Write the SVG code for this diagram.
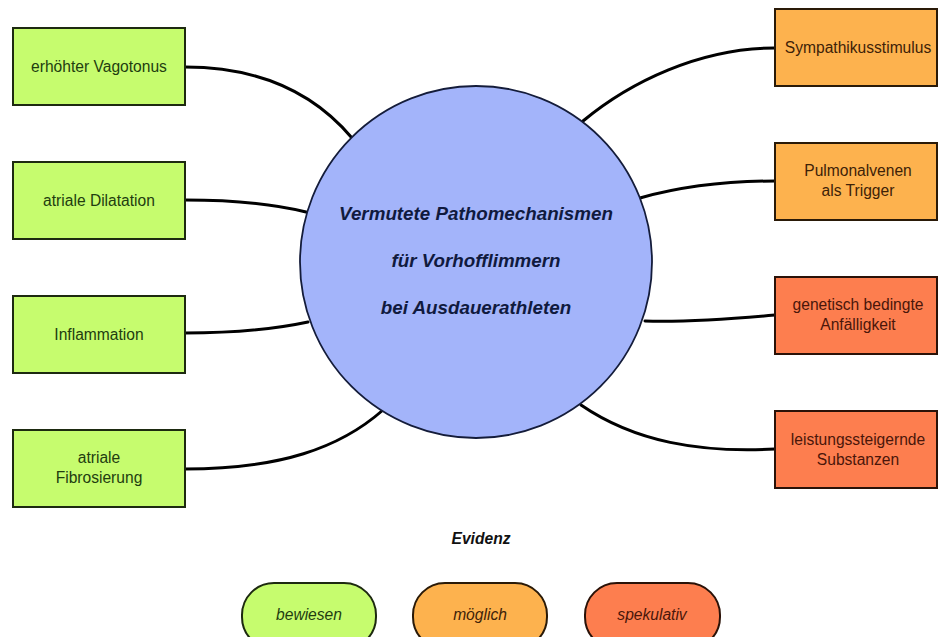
<svg xmlns="http://www.w3.org/2000/svg" width="940" height="637" viewBox="0 0 940 637">
<style>
text{font-family:"Liberation Sans",Arial,sans-serif;text-anchor:middle;font-size:15.6px}
.g rect{fill:#c6fc6e;stroke:#1d2a10;stroke-width:2}
.g text{fill:#223d10}
.o rect{fill:#fdb24e;stroke:#2a1a08;stroke-width:2}
.o text{fill:#3e2208}
.r rect{fill:#fd7e4f;stroke:#2a1208;stroke-width:2}
.r text{fill:#4a160a}
.c{fill:none;stroke:#000;stroke-width:3;stroke-linecap:round}
.center text{font-weight:bold;font-style:italic;font-size:18.8px;fill:#101a3e}
.leg text{font-style:italic}
</style>
<rect width="940" height="637" fill="#fff"/>
<g id="connectors">
<path class="c" d="M185,67 C270,67 320,100 352,138"/>
<path class="c" d="M185,200 C240,200 278,205 306,212"/>
<path class="c" d="M185,333 C240,333 280,328 308,322"/>
<path class="c" d="M185,469 C280,469 340,448 383,410"/>
<path class="c" d="M775,48 C700,48 630,82 583,121"/>
<path class="c" d="M775,181 C720,181 672,189 640,198"/>
<path class="c" d="M775,315 C720,320 680,322 645,321"/>
<path class="c" d="M775,449 C700,453 635,442 581,405"/>
</g>
<g id="center" class="center">
<circle cx="476" cy="262" r="176" fill="#a3b4fa" stroke="#141c3a" stroke-width="1.8"/>
<text x="476" y="220">Vermutete Pathomechanismen</text>
<text x="476" y="267">für Vorhofflimmern</text>
<text x="476" y="314">bei Ausdauerathleten</text>
</g>
<g id="n-vagotonus" class="g"><rect x="13" y="28" width="172" height="77"/><text x="99" y="72">erhöhter Vagotonus</text></g>
<g id="n-dilatation" class="g"><rect x="13" y="162" width="172" height="77"/><text x="99" y="206">atriale Dilatation</text></g>
<g id="n-inflammation" class="g"><rect x="13" y="296" width="172" height="77"/><text x="99" y="340">Inflammation</text></g>
<g id="n-fibrosierung" class="g"><rect x="13" y="430" width="172" height="77"/><text x="99" y="463">atriale</text><text x="99" y="483">Fibrosierung</text></g>
<g id="n-sympathikus" class="o"><rect x="775" y="9" width="162" height="77"/><text x="858" y="53">Sympathikusstimulus</text></g>
<g id="n-pulmonalvenen" class="o"><rect x="775" y="143" width="162" height="77"/><text x="858" y="176">Pulmonalvenen</text><text x="858" y="196">als Trigger</text></g>
<g id="n-genetisch" class="r"><rect x="775" y="277" width="162" height="77"/><text x="858" y="310">genetisch bedingte</text><text x="858" y="330">Anfälligkeit</text></g>
<g id="n-leistung" class="r"><rect x="775" y="411" width="162" height="77"/><text x="858" y="445">leistungssteigernde</text><text x="858" y="465">Substanzen</text></g>
<g id="legend" class="leg">
<text x="481" y="544" style="font-weight:bold;fill:#111">Evidenz</text>
<g id="l-bewiesen" class="g"><rect x="242" y="583" width="134" height="66" rx="32"/><text x="309" y="620">bewiesen</text></g>
<g id="l-moeglich" class="o"><rect x="413" y="583" width="134" height="66" rx="32"/><text x="480" y="620">möglich</text></g>
<g id="l-spekulativ" class="r"><rect x="585" y="583" width="135" height="66" rx="32"/><text x="652" y="620">spekulativ</text></g>
</g>
</svg>
